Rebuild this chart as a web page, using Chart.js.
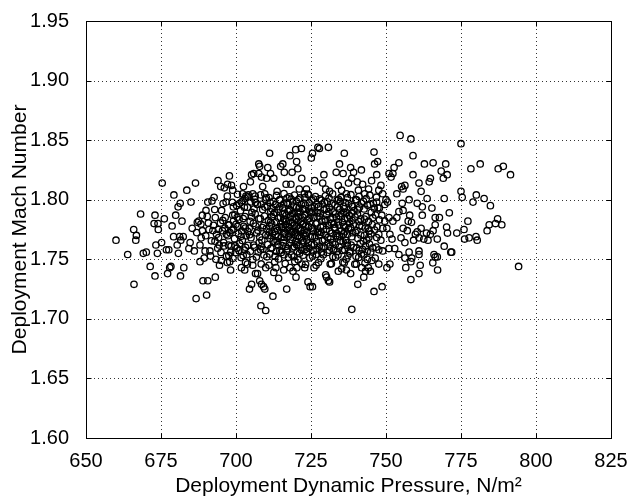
<!DOCTYPE html>
<html>
<head>
<meta charset="utf-8">
<script src="https://cdn.jsdelivr.net/npm/chart.js@4.4.1/dist/chart.umd.min.js"></script>
<style>
  html, body { margin: 0; padding: 0; background: #fff; }
  canvas { display: block; }
</style>
</head>
<body>
<canvas id="chart" width="634" height="500"></canvas>
<script>
// axis setup
const xTicks = [650, 675, 700, 725, 750, 775, 800, 825];
const yTicks = [1.60, 1.65, 1.70, 1.75, 1.80, 1.85, 1.90, 1.95];
const xTitle = 'Deployment Dynamic Pressure, N/m\u00B2';
const yTitle = 'Deployment Mach Number';

// [dynamic pressure, mach], grouped by region
const lowQSide = [
  [660.0,1.766],[663.9,1.754],[665.9,1.775],[666.8,1.770],[666.6,1.766],[666.0,1.729],
  [668.2,1.788],[669.1,1.755],[670.1,1.756],[671.4,1.744],[673.0,1.787],[672.7,1.780],
  [674.0,1.780],[674.1,1.775],[673.3,1.762],[673.8,1.755],[673.0,1.736],[675.4,1.814],
  [675.2,1.764],[676.1,1.784],[676.8,1.758],[677.6,1.758],[677.2,1.738],[677.9,1.743],
  [678.3,1.744],[678.7,1.778],[679.2,1.769],[679.3,1.804],[679.9,1.787],[680.4,1.762],
  [680.7,1.794],[680.8,1.755],[681.4,1.797],[681.2,1.769],[681.5,1.736],[681.6,1.766],
  [682.0,1.782],[682.6,1.743],[682.4,1.769],[683.6,1.808],[684.3,1.759],[685.0,1.798],
  [684.7,1.764],[685.4,1.776],[686.5,1.814],[686.7,1.717],[686.1,1.757],[687.1,1.781],
  [687.6,1.782],[688.0,1.762],[688.0,1.748],[688.8,1.787],[688.4,1.768],[688.8,1.774],
  [689.0,1.732],[689.4,1.751],[689.7,1.757],[690.0,1.791],[690.2,1.720],[690.4,1.786],
  [690.6,1.732],[690.6,1.798],[691.0,1.775],[691.3,1.757],[692.0,1.799],[692.7,1.802],
  [693.1,1.735],[693.1,1.785],[693.5,1.771],[693.3,1.750],[694.0,1.816],[694.1,1.775],
  [694.4,1.762],[694.5,1.745],[694.9,1.811],[695.1,1.749],[695.2,1.791],[695.5,1.774],
  [695.9,1.764],[696.1,1.810],[696.4,1.785],[696.7,1.798],[697.1,1.803],[697.2,1.813],
  [697.8,1.820],[697.9,1.748],[698.2,1.741],[698.5,1.812],[698.9,1.787],[699.1,1.794],
  [698.9,1.808],[698.2,1.756],[697.5,1.762],[696.8,1.771],[697.4,1.779],
  [692.5,1.7785],[694.8,1.7805],[696.3,1.7762],[697.7,1.7788],[695.6,1.7826],[691.8,1.7655],
  [693.9,1.7593],[696.8,1.7528],[698.4,1.7612],[689.9,1.7698],[694.2,1.7682],[698.6,1.7745],
  [697.1,1.7472],[699.0,1.7508],
  [690.8,1.7805],[692.3,1.7741],[693.0,1.7652],[695.0,1.7558],[696.0,1.7612],[697.3,1.7698],
  [698.0,1.7723],[699.2,1.7822],[692.9,1.7918],[695.7,1.7968],[698.8,1.7978],[697.6,1.7532],
  [691.5,1.7528],[688.3,1.7796],[686.9,1.7724]
];

const upperTail = [
  [701.8,1.798],[702.2,1.805],[702.5,1.811],[703.3,1.803],[704.1,1.804],[704.8,1.815],
  [705.2,1.821],[705.6,1.805],[705.9,1.822],[706.4,1.803],[707.2,1.796],[707.6,1.830],
  [707.9,1.828],[707.6,1.822],[708.5,1.819],[708.9,1.811],[709.6,1.805],[710.2,1.818],
  [710.6,1.827],[711.2,1.839],[711.5,1.822],[712.6,1.818],[713.7,1.807],[714.9,1.828],
  [715.6,1.830],[716.1,1.823],[716.7,1.813],[718.0,1.837],[718.7,1.823],[718.3,1.813],
  [719.9,1.842],[720.2,1.832],[720.6,1.826],[721.1,1.809],[721.8,1.843],[721.9,1.818],
  [722.8,1.805],[723.5,1.809],[724.2,1.804],[725.1,1.835],[725.5,1.839],[726.2,1.816],
  [727.3,1.844],[727.8,1.843],[728.9,1.814],[729.3,1.821],[729.9,1.809],[730.8,1.844],
  [731.2,1.807],[733.4,1.823],[734.1,1.812],[734.5,1.830],[735.2,1.808],[735.7,1.822],
  [736.1,1.839],[736.8,1.805],[737.5,1.814],[738.2,1.827],[738.6,1.818],[739.2,1.823],
  [740.4,1.815],[740.8,1.808],[741.8,1.825],[742.2,1.813],[742.9,1.805],
  [744.2,1.809],[745.2,1.816],[746.0,1.840],[746.2,1.830],[746.9,1.821],[747.2,1.832],
  [747.6,1.808],[748.3,1.812],[748.9,1.805]
];

const lowerTail = [
  [701.8,1.743],[702.9,1.741],[703.8,1.746],[704.5,1.725],[705.2,1.729],[705.6,1.745],
  [706.5,1.738],[707.2,1.738],[707.9,1.732],[708.3,1.711],[708.5,1.729],[709.2,1.727],
  [709.6,1.725],[709.9,1.707],[709.9,1.743],[711.0,1.745],[712.3,1.719],[712.6,1.739],
  [713.3,1.743],[714.2,1.734],[715.9,1.741],[716.9,1.725],[718.0,1.743],[719.0,1.740],
  [720.0,1.735],[720.3,1.743],[722.0,1.746],[722.9,1.743],[724.0,1.731],[724.7,1.727],
  [725.5,1.727],[726.0,1.743],[726.7,1.745],[729.9,1.737],[730.2,1.735],[730.8,1.732],
  [731.2,1.731],[731.4,1.746],[738.6,1.708],[740.6,1.729],[738.2,1.738],[736.8,1.741],
  [735.2,1.742],[742.6,1.735],[743.2,1.740],[744.8,1.740],[744.1,1.743],[745.3,1.749],
  [741.9,1.743],[740.1,1.746],[736.1,1.747],[734.1,1.740],[746.0,1.723],[747.6,1.746],
  [748.7,1.727]
];

const highQSide = [
  [750.0,1.800],[751.0,1.822],[751.7,1.819],[752.3,1.822],[752.7,1.827],[753.6,1.805],
  [754.3,1.831],[754.7,1.854],[755.2,1.811],[755.7,1.809],[756.3,1.812],[757.7,1.800],
  [758.3,1.851],[759.0,1.837],[759.0,1.821],[760.4,1.797],[761.0,1.814],[761.7,1.807],
  [762.1,1.794],[762.8,1.830],[763.7,1.801],[764.4,1.815],[764.8,1.818],[765.7,1.831],
  [765.3,1.793],[766.4,1.785],[768.4,1.824],[769.1,1.818],[769.4,1.801],[769.9,1.830],
  [770.4,1.821],[771.1,1.789],[775.0,1.847],[775.0,1.807],[775.4,1.802],[778.3,1.826],
  [779.0,1.798],[780.1,1.804],[781.4,1.830],[782.7,1.801],[784.8,1.795],[787.4,1.826],
  [789.1,1.828],[791.5,1.821],
  [766.4,1.779],[765.7,1.774],[767.1,1.767],[767.8,1.785],[770.2,1.777],[770.5,1.772],
  [771.6,1.756],[769.4,1.761],[773.6,1.772],[776.0,1.775],[776.2,1.767],[777.3,1.782],
  [777.7,1.768],[780.0,1.769],[780.4,1.766],[783.7,1.774],[784.4,1.779],[787.2,1.784],
  [786.5,1.780],[788.6,1.779],[794.2,1.744],
  [750.3,1.743],[751.3,1.746],[756.6,1.743],[758.3,1.733],[757.7,1.756],[758.6,1.751],
  [761.0,1.738],[761.4,1.745],[761.0,1.754],[761.0,1.757],[765.6,1.747],[766.0,1.754],
  [766.4,1.752],[767.2,1.741],[767.1,1.752],[771.9,1.756],
  [751.3,1.771],[752.0,1.767],[750.3,1.776],[751.0,1.785],[752.3,1.782],[753.6,1.785],
  [754.3,1.790],[755.4,1.797],[755.7,1.791],[755.0,1.768],[756.3,1.764],[755.7,1.776],
  [757.1,1.774],[757.4,1.782],[757.9,1.787],[758.5,1.781],[759.2,1.766],[759.8,1.771],
  [760.4,1.773],[761.0,1.768],[761.7,1.776],[762.1,1.787],[762.6,1.767],[763.5,1.772],
  [764.0,1.766],[764.8,1.771],[758.3,1.748],[756.3,1.751],[754.3,1.754],[752.9,1.759],
  [751.0,1.759],[748.9,1.757],[747.6,1.758],[748.3,1.766],[747.6,1.771],[748.9,1.776],
  [749.6,1.782],[748.6,1.787],[747.8,1.793],[749.6,1.796],[750.5,1.798],[746.9,1.798]
];

const core = [
  [700.5,1.8045],[704.0,1.8022],[708.2,1.8041],[711.0,1.8018],[713.5,1.8036],[716.0,1.8051],
  [717.8,1.8024],[719.5,1.8039],[721.3,1.8015],[724.0,1.8047],[726.5,1.8027],[729.8,1.8033],
  [732.2,1.8049],[735.0,1.8019],[738.3,1.8042],[741.0,1.8026],[744.6,1.8038],[746.8,1.8021],
  [702.3,1.7993],[706.5,1.7978],[709.8,1.8004],[712.4,1.7985],[714.7,1.7998],[716.9,1.7974],
  [718.4,1.8006],[720.1,1.7989],[722.6,1.7971],[725.3,1.7997],[727.9,1.8008],[730.5,1.7982],
  [733.7,1.7995],[736.4,1.7976],[739.9,1.8001],[742.5,1.7987],[745.8,1.7969],
  [700.2,1.7952],[703.8,1.7937],[707.1,1.7961],[710.5,1.7944],[713.2,1.7958],[715.5,1.7931],
  [717.3,1.7966],[719.2,1.7947],[721.0,1.7929],[723.1,1.7955],[726.2,1.7941],[728.7,1.7963],
  [731.1,1.7934],[733.0,1.7957],[735.8,1.7946],[737.6,1.7968],[741.2,1.7939],[743.9,1.7953],
  [747.3,1.7932],
  [701.5,1.7908],[705.3,1.7893],[708.9,1.7917],[711.6,1.7899],[714.0,1.7921],[716.2,1.7886],
  [718.0,1.7912],[720.4,1.7895],[722.2,1.7924],[724.5,1.7903],[727.1,1.7889],[729.4,1.7915],
  [732.4,1.7897],[734.6,1.7919],[736.9,1.7891],[739.3,1.7906],[742.7,1.7922],[745.1,1.7894],
  [699.6,1.7874],[703.0,1.7859],[706.4,1.7881],[709.5,1.7863],[712.5,1.7877],[714.8,1.7852],
  [716.7,1.7869],[718.8,1.7884],[720.8,1.7856],[722.9,1.7872],[725.0,1.7889],[727.7,1.7861],
  [730.2,1.7876],[733.5,1.7855],[735.3,1.7882],[737.8,1.7866],[740.5,1.7879],[743.3,1.7858],
  [746.5,1.7871],
  [701.0,1.7834],[704.7,1.7819],[708.1,1.7841],[710.8,1.7826],[713.4,1.7812],[715.9,1.7838],
  [717.6,1.7823],[719.7,1.7845],[721.6,1.7816],[723.8,1.7832],[726.0,1.7848],[728.6,1.7821],
  [731.4,1.7837],[734.1,1.7814],[736.2,1.7843],[738.7,1.7827],[741.6,1.7839],[744.2,1.7818],
  [747.8,1.7831],
  [700.0,1.7794],[702.6,1.7776],[705.8,1.7801],[709.2,1.7783],[711.9,1.7797],[714.4,1.7772],
  [716.5,1.7789],[718.3,1.7806],[720.3,1.7779],[722.1,1.7792],[724.2,1.7774],[726.6,1.7798],
  [729.1,1.7781],[731.9,1.7803],[734.3,1.7786],[736.6,1.7771],[739.1,1.7795],[742.0,1.7778],
  [745.4,1.7791],
  [699.2,1.7753],[701.9,1.7738],[704.4,1.7761],[707.3,1.7744],[710.1,1.7757],[712.8,1.7733],
  [715.2,1.7766],[717.1,1.7748],[719.0,1.7731],[720.9,1.7759],[722.7,1.7742],[725.1,1.7764],
  [727.4,1.7736],[730.0,1.7751],[732.8,1.7768],[735.1,1.7739],[737.5,1.7755],[740.3,1.7741],
  [743.1,1.7762],[746.2,1.7746],
  [700.8,1.7716],[703.4,1.7697],[706.9,1.7721],[709.9,1.7703],[712.2,1.7718],[714.1,1.7692],
  [716.3,1.7709],[718.5,1.7726],[720.6,1.7698],[722.4,1.7713],[724.8,1.7689],[727.2,1.7722],
  [729.7,1.7704],[732.0,1.7719],[734.5,1.7694],[737.2,1.7711],[739.8,1.7727],[742.8,1.7701],
  [745.0,1.7714],
  [699.5,1.7673],[702.1,1.7658],[705.0,1.7681],[708.6,1.7662],[711.3,1.7677],[713.7,1.7654],
  [716.0,1.7686],[718.1,1.7667],[719.9,1.7651],[721.8,1.7679],[723.6,1.7663],[726.3,1.7684],
  [728.8,1.7656],[731.5,1.7671],[733.9,1.7688],[736.5,1.7659],[740.6,1.7675],[743.6,1.7661],
  [746.9,1.7683],
  [701.2,1.7632],[704.0,1.7617],[707.7,1.7641],[710.6,1.7623],[713.0,1.7645],[715.4,1.7614],
  [717.9,1.7636],[720.2,1.7621],[722.6,1.7643],[725.2,1.7626],[727.8,1.7611],[730.7,1.7638],
  [733.1,1.7624],[735.7,1.7647],[738.4,1.7619],[741.4,1.7634],[744.5,1.7628],
  [700.3,1.7593],[702.8,1.7578],[706.2,1.7601],[709.0,1.7584],[712.0,1.7597],[714.6,1.7572],
  [717.2,1.7589],[719.5,1.7605],[721.9,1.7576],[724.4,1.7592],[727.0,1.7581],[729.3,1.7603],
  [732.6,1.7586],[735.4,1.7574],[739.2,1.7598],[742.2,1.7583],[745.6,1.7595],
  [699.8,1.7556],[703.6,1.7539],[707.4,1.7562],[711.2,1.7544],[715.1,1.7558],[718.6,1.7535],
  [721.2,1.7551],[723.5,1.7566],[726.8,1.7541],[730.4,1.7557],[734.0,1.7537],[737.9,1.7553],
  [741.8,1.7545],[744.9,1.7561],
  [701.7,1.7514],[705.6,1.7498],[710.3,1.7521],[714.2,1.7503],[717.5,1.7517],[720.7,1.7496],
  [724.6,1.7512],[728.3,1.7505],[732.3,1.7523],[736.7,1.7501],[740.9,1.7516],[743.8,1.7499],
  [746.4,1.7511],
  [703.2,1.7474],[708.4,1.7461],[712.9,1.7478],[716.4,1.7465],[719.6,1.7482],[723.2,1.7457],
  [727.5,1.7473],[731.8,1.7463],[735.6,1.7477],[739.6,1.7459],[743.0,1.7468],
  [712.9,1.7893],[715.6,1.7879],[717.4,1.7901],[719.3,1.7884],[721.4,1.7897],[723.3,1.7876],
  [725.6,1.7904],[728.1,1.7887],[730.9,1.7899],[733.2,1.7881],[735.9,1.7895],[738.5,1.7886],
  [711.5,1.7812],[714.9,1.7797],[716.8,1.7818],[718.9,1.7804],[720.7,1.7821],[722.5,1.7799],
  [724.7,1.7815],[727.0,1.7806],[729.8,1.7819],[732.6,1.7795],[735.5,1.7811],[737.9,1.7802],
  [741.0,1.7816],
  [703.9,1.7734],[711.1,1.7728],[713.9,1.7741],[716.1,1.7719],[718.2,1.7738],[719.8,1.7724],
  [721.7,1.7743],[723.4,1.7721],[725.8,1.7736],[728.4,1.7726],[731.2,1.7739],[733.6,1.7717],
  [736.3,1.7732],[738.9,1.7723],[744.4,1.7737],
  [712.4,1.7652],[715.8,1.7639],[718.7,1.7661],[720.5,1.7643],[722.3,1.7657],[724.1,1.7636],
  [726.9,1.7648],[729.5,1.7664],[732.2,1.7641],[734.8,1.7655],[737.1,1.7638],[742.4,1.7651]
];

// second pass over the darkest part of the cloud
const coreDense = [
  [703.0,1.8012],[706.2,1.8003],[710.1,1.8016],[714.5,1.7999],[717.0,1.8013],[720.8,1.8002],
  [723.0,1.8019],[725.9,1.8006],[728.5,1.7996],[731.0,1.8014],[734.2,1.8004],[737.1,1.8017],
  [740.2,1.7998],[743.4,1.8009],
  [701.1,1.7968],[704.9,1.7981],[708.3,1.7962],[711.4,1.7977],[715.9,1.7965],[718.9,1.7983],
  [721.8,1.7959],[724.4,1.7974],[727.0,1.7962],[729.5,1.7979],[732.0,1.7966],[734.8,1.7984],
  [738.6,1.7957],[741.8,1.7972],[744.7,1.7961],
  [702.8,1.7936],[706.0,1.7922],[709.6,1.7938],[712.0,1.7925],[714.6,1.7941],[717.9,1.7919],
  [720.2,1.7935],[722.7,1.7917],[725.1,1.7932],[727.5,1.7944],[730.1,1.7921],[733.8,1.7939],
  [736.1,1.7926],[738.8,1.7943],[740.6,1.7915],[746.1,1.7928],
  [700.4,1.7853],[702.4,1.7842],[705.2,1.7856],[707.6,1.7839],[711.9,1.7858],[714.2,1.7846],
  [716.3,1.7832],[718.2,1.7861],[720.1,1.7837],[722.3,1.7852],[724.4,1.7844],[727.0,1.7858],
  [729.7,1.7835],[732.3,1.7849],[734.7,1.7862],[737.2,1.7841],[739.7,1.7855],[742.8,1.7837],
  [745.6,1.7849],
  [700.6,1.7774],[703.1,1.7762],[706.6,1.7779],[708.8,1.7766],[711.2,1.7781],[713.6,1.7759],
  [715.7,1.7776],[717.7,1.7768],[719.5,1.7785],[721.4,1.7763],[723.2,1.7779],[725.6,1.7756],
  [728.2,1.7771],[730.8,1.7784],[733.0,1.7761],[735.9,1.7777],[738.2,1.7765],[741.2,1.7782],
  [744.1,1.7758],[747.0,1.7773],
  [701.7,1.7693],[704.5,1.7706],[707.9,1.7687],[710.7,1.7699],[713.3,1.7708],[715.0,1.7681],
  [717.5,1.7694],[719.4,1.7712],[721.2,1.7684],[723.1,1.7702],[725.5,1.7691],[728.0,1.7707],
  [730.6,1.7683],[733.3,1.7698],[735.8,1.7713],[738.6,1.7689],[741.6,1.7704],[744.3,1.7686],
  [699.7,1.7614],[703.2,1.7601],[705.9,1.7619],[708.4,1.7606],[711.6,1.7592],[714.0,1.7624],
  [716.6,1.7608],[718.8,1.7595],[721.0,1.7617],[723.6,1.7604],[726.1,1.7621],[728.6,1.7597],
  [731.4,1.7612],[734.4,1.7603],[737.0,1.7618],[740.2,1.7596],[743.2,1.7611],[746.7,1.7602],
  [702.4,1.7532],[706.8,1.7519],[709.3,1.7536],[713.0,1.7524],[716.0,1.7538],[719.3,1.7521],
  [722.4,1.7534],[725.5,1.7527],[729.1,1.7539],[733.2,1.7518],[737.3,1.7531],[740.0,1.7525],
  [742.6,1.7537],
  [701.0,1.7574],[704.8,1.7568],[708.2,1.7579],[713.5,1.7566],[716.8,1.7571],[720.4,1.7563],
  [723.0,1.7582],[725.8,1.7569],[728.5,1.7561],[731.1,1.7576],[733.7,1.7566],[736.2,1.7581],
  [738.0,1.7567],[741.0,1.7574],[743.7,1.7564]
];

const samples = [...lowQSide, ...upperTail, ...lowerTail, ...highQSide, ...core, ...coreDense]
  .map(([q, m]) => ({ x: q, y: m }));

const FONT = "'Liberation Sans', Arial, Helvetica, sans-serif";

// dotted grid, box and inward ticks like the original plot
const framePlugin = {
  id: 'frame',
  beforeDatasetsDraw(chart) {
    const { ctx, chartArea: a, scales: { x, y } } = chart;
    ctx.save();
    ctx.strokeStyle = '#333';
    ctx.lineWidth = 1;
    ctx.setLineDash([1, 3]);
    xTicks.forEach(v => {
      const px = Math.round(x.getPixelForValue(v)) + 0.5;
      ctx.beginPath(); ctx.moveTo(px, a.top); ctx.lineTo(px, a.bottom); ctx.stroke();
    });
    yTicks.forEach(v => {
      const py = Math.round(y.getPixelForValue(v)) + 0.5;
      ctx.beginPath(); ctx.moveTo(a.left, py); ctx.lineTo(a.right, py); ctx.stroke();
    });
    ctx.restore();
  },
  afterDraw(chart) {
    const { ctx, chartArea: a, scales: { x, y } } = chart;
    const L = Math.round(a.left) + 0.5, R = Math.round(a.right) + 0.5;
    const T = Math.round(a.top) + 0.5, B = Math.round(a.bottom) + 0.5;
    ctx.save();
    ctx.strokeStyle = '#000';
    ctx.lineWidth = 1;
    ctx.strokeRect(L, T, R - L, B - T);
    const len = 5;
    ctx.beginPath();
    xTicks.forEach(v => {
      const px = Math.round(x.getPixelForValue(v)) + 0.5;
      ctx.moveTo(px, B); ctx.lineTo(px, B - len);
      ctx.moveTo(px, T); ctx.lineTo(px, T + len);
    });
    yTicks.forEach(v => {
      const py = Math.round(y.getPixelForValue(v)) + 0.5;
      ctx.moveTo(L, py); ctx.lineTo(L + len, py);
      ctx.moveTo(R, py); ctx.lineTo(R - len, py);
    });
    ctx.stroke();
    ctx.restore();
  }
};

new Chart(document.getElementById('chart'), {
  type: 'scatter',
  data: {
    datasets: [{
      data: samples,
      pointStyle: 'circle',
      pointRadius: 3.2,
      pointHoverRadius: 3.2,
      borderColor: '#000',
      backgroundColor: 'rgba(0,0,0,0)',
      borderWidth: 1.3
    }]
  },
  options: {
    responsive: false,
    animation: false,
    devicePixelRatio: 1,
    layout: { padding: { left: 0, right: 23, top: 18, bottom: 0 } },
    plugins: { legend: { display: false }, tooltip: { enabled: false } },
    scales: {
      x: {
        type: 'linear',
        min: 650, max: 825,
        afterBuildTicks: s => { s.ticks = xTicks.map(v => ({ value: v })); },
        afterFit: s => { s.height = 62; },
        grid: { display: false },
        border: { display: false },
        ticks: {
          color: '#000', padding: 3,
          font: { family: FONT, size: 20 },
          maxRotation: 0,
          callback: v => String(v)
        },
        title: {
          display: true, text: xTitle, color: '#000',
          font: { family: FONT, size: 21 },
          padding: { top: 0, bottom: 1 }
        }
      },
      y: {
        type: 'linear',
        min: 1.60, max: 1.95,
        afterBuildTicks: s => { s.ticks = yTicks.map(v => ({ value: v })); },
        afterFit: s => { s.width = 86; },
        grid: { display: false },
        border: { display: false },
        ticks: {
          color: '#000', padding: 9,
          font: { family: FONT, size: 20 },
          callback: v => Number(v).toFixed(2)
        },
        title: {
          display: true, text: yTitle, color: '#000',
          font: { family: FONT, size: 21 },
          padding: { top: 8, bottom: 0 }
        }
      }
    }
  },
  plugins: [framePlugin]
});
</script>
</body>
</html>
